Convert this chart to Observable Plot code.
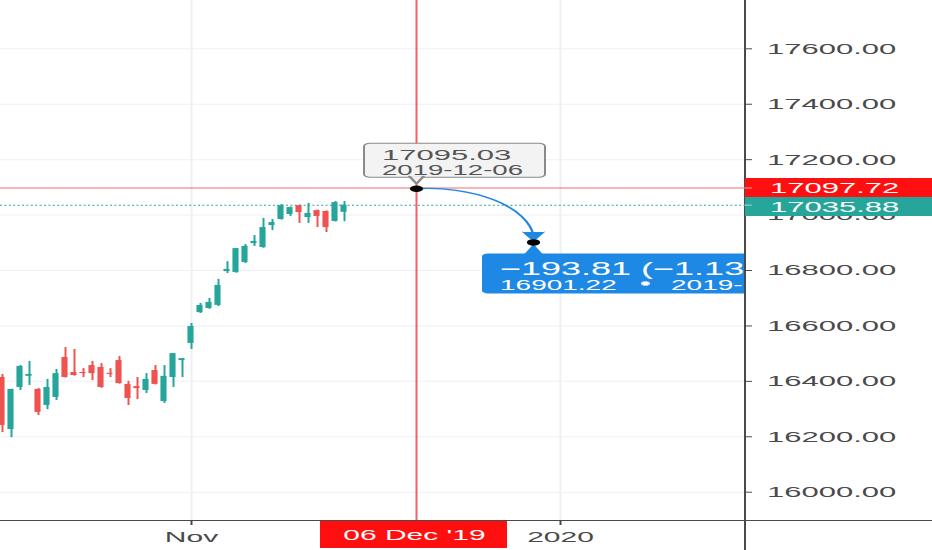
<!DOCTYPE html>
<html><head><meta charset="utf-8">
<script src="https://cdn.jsdelivr.net/npm/d3@7"></script>
<script src="https://cdn.jsdelivr.net/npm/@observablehq/plot@0.6"></script>
<style>
html,body{margin:0;padding:0;background:#fff;overflow:hidden}
#chart svg{transform-origin:0 0;transform:scaleX(2);}
</style></head><body><div id="chart"></div>
<script>
// ---- data (bar index 21 = first bar of November 2019) ----
const open  = [16414,16226,16378,16418,16371,16313,16342,16486,16432,16432,16457,16450,16429,16475,16389,16381,16367,16439,16327,16414,16475,16537,16648,16663,16674,16796,16793,16829,16897,16883,16962,16984,17002,17034,16991,17016,17013,16977,17010];
const high  = [16425,16371,16457,16472,16374,16407,16443,16522,16515,16446,16472,16464,16446,16490,16400,16414,16428,16457,16457,16500,16483,16609,16681,16699,16768,16832,16880,16894,16926,16988,16984,17038,17029,17036,17042,17018,17015,17049,17049];
const low   = [16215,16197,16367,16385,16277,16298,16331,16412,16419,16414,16403,16375,16414,16390,16313,16334,16356,16387,16320,16378,16414,16515,16645,16660,16670,16789,16790,16825,16887,16880,16944,16982,16995,16970,16970,16955,16937,16975,16976];
const close = [16241,16371,16454,16425,16288,16378,16428,16414,16421,16428,16428,16378,16425,16392,16338,16374,16407,16389,16418,16500,16482,16598,16674,16685,16746,16804,16879,16887,16905,16955,16973,17034,17027,17009,17006,16995,16955,17045,17035.88];

const xTickIndex  = [21, 62];
const xTickLabels = ["Nov", "2020"];
const yTicks = [16000, 16200, 16400, 16600, 16800, 17000, 17200, 17400, 17600];

const crossIndex = 46, crossLabel = "06 Dec '19", crossPrice = 17097.72;
const lastPrice = 17035.88;
const startPrice = 17095.03, startDate = "2019-12-06";
const targetIndex = 59, targetPrice = 16901.22;
const changeText = "−193.81 (−1.13", targetDateText = "2019-";

// ---- layout ----
const S = 2;                       // horizontal stretch of the reference picture
const W = 932 / S, H = 550, MB = 30, MR = 94;
const xDomain = [-1.5 / 9, 82.5];
const yDomain = [15897.9, 17774.3];
const RX = (xDomain[1] - xDomain[0]) / 744;  // index units per reference px
const RY = (yDomain[1] - yDomain[0]) / 520;  // price units per px
const ox = px => px * RX, oy = px => px * RY;

const green = "#26a69a", red = "#ef5350", tagRed = "#ff0f0f", blue = "#1e88e5";
const axisColor = "#4a4a4a", gridColor = "#eef0f4";

const candles = open.map((o, i) => ({i, o, h: high[i], l: low[i], c: close[i], col: close[i] >= o ? green : red}));

const one = [{}];
const chart = Plot.plot({
  width: W, height: H,
  marginLeft: 0, marginRight: MR, marginTop: 0, marginBottom: MB,
  x: {domain: xDomain, axis: null},
  y: {domain: yDomain, axis: null},
  color: {type: "identity"},
  style: {fontFamily: "'Liberation Sans', Arial, sans-serif", background: "white", overflow: "visible"},
  marks: [
    // grid
    Plot.ruleY(yTicks, {x1: xDomain[0], x2: xDomain[1], stroke: gridColor}),
    Plot.ruleX(xTickIndex, {y1: yDomain[0], y2: yDomain[1], stroke: gridColor}),
    // candles
    Plot.ruleX(candles, {x: "i", y1: "l", y2: "h", stroke: "col", strokeWidth: 1, clip: true}),
    Plot.rect(candles, {x1: d => d.i - 0.34, x2: d => d.i + 0.34, y1: "o",
      y2: d => Math.abs(d.c - d.o) < RY ? d.o + RY : d.c, fill: "col", clip: true}),
    // price lines & crosshair
    Plot.ruleY([lastPrice], {x1: xDomain[0], x2: xDomain[1], stroke: green, strokeDasharray: "1,1.2"}),
    Plot.ruleY([crossPrice], {x1: xDomain[0], x2: xDomain[1], stroke: "#f23645", strokeOpacity: 0.75}),
    Plot.ruleX([crossIndex], {y1: yDomain[0], y2: yDomain[1], stroke: "#f23645", strokeOpacity: 0.8}),
    // curved arrow
    Plot.arrow(one, {x1: () => crossIndex, y1: () => startPrice, x2: () => targetIndex, y2: () => targetPrice + oy(7),
      bend: 45, stroke: blue, strokeWidth: 1.3, headLength: 0}),
    Plot.line([[targetIndex - ox(11), targetPrice + oy(10.5)], [targetIndex, targetPrice + oy(1)], [targetIndex + ox(11), targetPrice + oy(10.5)]],
      {fill: blue, stroke: blue, strokeWidth: 0.5}),
    // grey tooltip
    Plot.rect(one, {x1: () => crossIndex - ox(51.5), x2: () => crossIndex + ox(129.5),
      y1: () => startPrice + oy(11), y2: () => startPrice + oy(45), fill: "#f3f3f3", stroke: "#8a8a8a", rx: 3}),
    Plot.line([[crossIndex - ox(7), startPrice + oy(12.3)], [crossIndex, startPrice + oy(5)], [crossIndex + ox(7), startPrice + oy(12.3)]],
      {fill: "#f3f3f3", stroke: "#8a8a8a"}),
    Plot.text([startPrice.toFixed(2)], {x: () => crossIndex - ox(34.5), y: () => startPrice + oy(33.5), text: d => d,
      textAnchor: "start", fontSize: 15.5, fill: "#555"}),
    Plot.text([startDate], {x: () => crossIndex - ox(34.5), y: () => startPrice + oy(18), text: d => d,
      textAnchor: "start", fontSize: 13.8, fill: "#555"}),
    // blue target label
    Plot.rect(one, {x1: () => targetIndex - ox(50.5), x2: () => xDomain[1] + 10,
      y1: () => targetPrice - oy(11.5), y2: () => targetPrice - oy(51.5), fill: blue, rx: 3, clip: true}),
    Plot.line([[targetIndex - ox(9.5), targetPrice - oy(12)], [targetIndex, targetPrice - oy(1.5)], [targetIndex + ox(9.5), targetPrice - oy(12)]],
      {fill: blue, stroke: "none"}),
    Plot.text([changeText], {x: () => targetIndex - ox(33.5), y: () => targetPrice - oy(26.5), text: d => d,
      textAnchor: "start", fontSize: 18, fill: "white", clip: true}),
    Plot.text([targetPrice.toFixed(2)], {x: () => targetIndex - ox(33.5), y: () => targetPrice - oy(43), text: d => d,
      textAnchor: "start", fontSize: 14, fill: "white", clip: true}),
    Plot.dot(one, {x: () => targetIndex + ox(112), y: () => targetPrice - oy(41), r: 2, fill: "white", stroke: "#cfe3fa", strokeWidth: 0.6}),
    Plot.text([targetDateText], {x: () => targetIndex + ox(137.5), y: () => targetPrice - oy(43), text: d => d,
      textAnchor: "start", fontSize: 14, fill: "white", clip: true}),
    // anchor dots
    Plot.dot([{x: crossIndex, y: startPrice}, {x: targetIndex, y: targetPrice}], {x: "x", y: "y", r: 3.3, fill: "#000"}),
    // right axis
    Plot.ruleX([xDomain[1]], {y1: yDomain[0] - oy(MB), y2: yDomain[1], stroke: axisColor}),
    Plot.ruleY(yTicks, {x1: xDomain[1], x2: xDomain[1] + ox(8), stroke: axisColor}),
    Plot.text(yTicks, {x: xDomain[1] + ox(22), y: d => d, text: d => d.toFixed(2), textAnchor: "start", fontSize: 15.5, fill: axisColor}),
    // bottom axis
    Plot.ruleY([yDomain[0]], {x1: xDomain[0], x2: xDomain[1] + ox(188), stroke: axisColor}),
    Plot.ruleX(xTickIndex, {y1: yDomain[0], y2: yDomain[0] - oy(5), stroke: axisColor}),
    Plot.text(xTickIndex, {x: d => d, y: yDomain[0] - oy(17), text: (d, i) => xTickLabels[i], fontSize: 15, fill: axisColor}),
    // price tags
    Plot.rect([crossPrice], {x1: xDomain[1] + ox(1), x2: xDomain[1] + ox(188), y1: d => d - oy(9.5), y2: d => d + oy(9.5), fill: tagRed}),
    Plot.rect([crossPrice], {x1: xDomain[1] + ox(1), x2: xDomain[1] + ox(188), y1: d => d - oy(9.5), y2: d => d - oy(28.5), fill: green}),
    Plot.ruleY([crossPrice, lastPrice], {x1: xDomain[1], x2: xDomain[1] + ox(8), stroke: "rgba(255,255,255,0.55)"}),
    Plot.text([crossPrice], {x: xDomain[1] + ox(25), y: d => d, text: d => d.toFixed(2), textAnchor: "start", fontSize: 15.5, fill: "white"}),
    Plot.text([lastPrice], {x: xDomain[1] + ox(25), y: () => crossPrice - oy(19), text: d => d.toFixed(2), textAnchor: "start", fontSize: 15.5, fill: "white"}),
    // crosshair date tag
    Plot.rect(one, {x1: () => crossIndex - ox(95.5), x2: () => crossIndex + ox(91.5), y1: () => yDomain[0] - oy(1), y2: () => yDomain[0] - oy(28), fill: tagRed}),
    Plot.text([crossLabel], {x: () => crossIndex - ox(2), y: () => yDomain[0] - oy(15), text: d => d, fontSize: 15, fill: "white"})
  ]
});
document.getElementById("chart").appendChild(chart);
</script></body></html>
